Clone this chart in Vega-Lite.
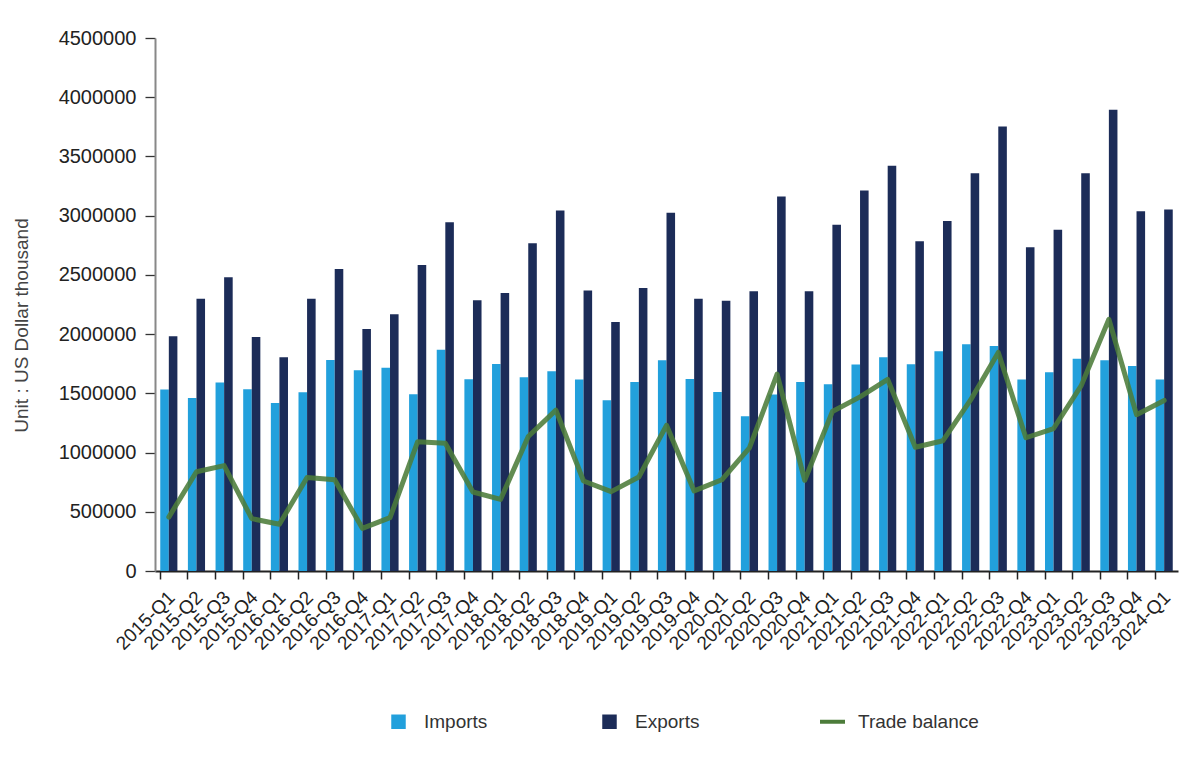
{
  "$schema": "https://vega.github.io/schema/vega-lite/v6.json",
  "width": 1023,
  "height": 533,
  "autosize": {"type": "none"},
  "padding": {"left": 155, "top": 38, "right": 22, "bottom": 188},
  "background": "white",
  "config": {"view": {"stroke": null}, "font": "Liberation Sans"},
  "data": {"values": [
    {"quarter": "2015-Q1", "series": "Imports", "value": 1532000}, {"quarter": "2015-Q1", "series": "Exports", "value": 1981000}, {"quarter": "2015-Q1", "series": "Trade balance", "value": 455000},
    {"quarter": "2015-Q2", "series": "Imports", "value": 1461000}, {"quarter": "2015-Q2", "series": "Exports", "value": 2299000}, {"quarter": "2015-Q2", "series": "Trade balance", "value": 838000},
    {"quarter": "2015-Q3", "series": "Imports", "value": 1591000}, {"quarter": "2015-Q3", "series": "Exports", "value": 2481000}, {"quarter": "2015-Q3", "series": "Trade balance", "value": 890000},
    {"quarter": "2015-Q4", "series": "Imports", "value": 1535000}, {"quarter": "2015-Q4", "series": "Exports", "value": 1976000}, {"quarter": "2015-Q4", "series": "Trade balance", "value": 442000},
    {"quarter": "2016-Q1", "series": "Imports", "value": 1419000}, {"quarter": "2016-Q1", "series": "Exports", "value": 1804000}, {"quarter": "2016-Q1", "series": "Trade balance", "value": 395000},
    {"quarter": "2016-Q2", "series": "Imports", "value": 1509000}, {"quarter": "2016-Q2", "series": "Exports", "value": 2299000}, {"quarter": "2016-Q2", "series": "Trade balance", "value": 790000},
    {"quarter": "2016-Q3", "series": "Imports", "value": 1782000}, {"quarter": "2016-Q3", "series": "Exports", "value": 2549000}, {"quarter": "2016-Q3", "series": "Trade balance", "value": 770000},
    {"quarter": "2016-Q4", "series": "Imports", "value": 1695000}, {"quarter": "2016-Q4", "series": "Exports", "value": 2043000}, {"quarter": "2016-Q4", "series": "Trade balance", "value": 360000},
    {"quarter": "2017-Q1", "series": "Imports", "value": 1717000}, {"quarter": "2017-Q1", "series": "Exports", "value": 2167000}, {"quarter": "2017-Q1", "series": "Trade balance", "value": 450000},
    {"quarter": "2017-Q2", "series": "Imports", "value": 1492000}, {"quarter": "2017-Q2", "series": "Exports", "value": 2583000}, {"quarter": "2017-Q2", "series": "Trade balance", "value": 1092000},
    {"quarter": "2017-Q3", "series": "Imports", "value": 1869000}, {"quarter": "2017-Q3", "series": "Exports", "value": 2945000}, {"quarter": "2017-Q3", "series": "Trade balance", "value": 1078000},
    {"quarter": "2017-Q4", "series": "Imports", "value": 1619000}, {"quarter": "2017-Q4", "series": "Exports", "value": 2285000}, {"quarter": "2017-Q4", "series": "Trade balance", "value": 667000},
    {"quarter": "2018-Q1", "series": "Imports", "value": 1748000}, {"quarter": "2018-Q1", "series": "Exports", "value": 2347000}, {"quarter": "2018-Q1", "series": "Trade balance", "value": 605000},
    {"quarter": "2018-Q2", "series": "Imports", "value": 1636000}, {"quarter": "2018-Q2", "series": "Exports", "value": 2768000}, {"quarter": "2018-Q2", "series": "Trade balance", "value": 1135000},
    {"quarter": "2018-Q3", "series": "Imports", "value": 1686000}, {"quarter": "2018-Q3", "series": "Exports", "value": 3044000}, {"quarter": "2018-Q3", "series": "Trade balance", "value": 1358000},
    {"quarter": "2018-Q4", "series": "Imports", "value": 1616000}, {"quarter": "2018-Q4", "series": "Exports", "value": 2369000}, {"quarter": "2018-Q4", "series": "Trade balance", "value": 760000},
    {"quarter": "2019-Q1", "series": "Imports", "value": 1442000}, {"quarter": "2019-Q1", "series": "Exports", "value": 2102000}, {"quarter": "2019-Q1", "series": "Trade balance", "value": 670000},
    {"quarter": "2019-Q2", "series": "Imports", "value": 1596000}, {"quarter": "2019-Q2", "series": "Exports", "value": 2389000}, {"quarter": "2019-Q2", "series": "Trade balance", "value": 794000},
    {"quarter": "2019-Q3", "series": "Imports", "value": 1779000}, {"quarter": "2019-Q3", "series": "Exports", "value": 3024000}, {"quarter": "2019-Q3", "series": "Trade balance", "value": 1230000},
    {"quarter": "2019-Q4", "series": "Imports", "value": 1621000}, {"quarter": "2019-Q4", "series": "Exports", "value": 2299000}, {"quarter": "2019-Q4", "series": "Trade balance", "value": 676000},
    {"quarter": "2020-Q1", "series": "Imports", "value": 1512000}, {"quarter": "2020-Q1", "series": "Exports", "value": 2282000}, {"quarter": "2020-Q1", "series": "Trade balance", "value": 770000},
    {"quarter": "2020-Q2", "series": "Imports", "value": 1307000}, {"quarter": "2020-Q2", "series": "Exports", "value": 2361000}, {"quarter": "2020-Q2", "series": "Trade balance", "value": 1040000},
    {"quarter": "2020-Q3", "series": "Imports", "value": 1490000}, {"quarter": "2020-Q3", "series": "Exports", "value": 3162000}, {"quarter": "2020-Q3", "series": "Trade balance", "value": 1662000},
    {"quarter": "2020-Q4", "series": "Imports", "value": 1596000}, {"quarter": "2020-Q4", "series": "Exports", "value": 2361000}, {"quarter": "2020-Q4", "series": "Trade balance", "value": 766000},
    {"quarter": "2021-Q1", "series": "Imports", "value": 1577000}, {"quarter": "2021-Q1", "series": "Exports", "value": 2923000}, {"quarter": "2021-Q1", "series": "Trade balance", "value": 1346000},
    {"quarter": "2021-Q2", "series": "Imports", "value": 1743000}, {"quarter": "2021-Q2", "series": "Exports", "value": 3212000}, {"quarter": "2021-Q2", "series": "Trade balance", "value": 1470000},
    {"quarter": "2021-Q3", "series": "Imports", "value": 1805000}, {"quarter": "2021-Q3", "series": "Exports", "value": 3421000}, {"quarter": "2021-Q3", "series": "Trade balance", "value": 1618000},
    {"quarter": "2021-Q4", "series": "Imports", "value": 1745000}, {"quarter": "2021-Q4", "series": "Exports", "value": 2785000}, {"quarter": "2021-Q4", "series": "Trade balance", "value": 1045000},
    {"quarter": "2022-Q1", "series": "Imports", "value": 1855000}, {"quarter": "2022-Q1", "series": "Exports", "value": 2954000}, {"quarter": "2022-Q1", "series": "Trade balance", "value": 1100000},
    {"quarter": "2022-Q2", "series": "Imports", "value": 1914000}, {"quarter": "2022-Q2", "series": "Exports", "value": 3358000}, {"quarter": "2022-Q2", "series": "Trade balance", "value": 1444000},
    {"quarter": "2022-Q3", "series": "Imports", "value": 1900000}, {"quarter": "2022-Q3", "series": "Exports", "value": 3752000}, {"quarter": "2022-Q3", "series": "Trade balance", "value": 1845000},
    {"quarter": "2022-Q4", "series": "Imports", "value": 1616000}, {"quarter": "2022-Q4", "series": "Exports", "value": 2734000}, {"quarter": "2022-Q4", "series": "Trade balance", "value": 1125000},
    {"quarter": "2023-Q1", "series": "Imports", "value": 1678000}, {"quarter": "2023-Q1", "series": "Exports", "value": 2881000}, {"quarter": "2023-Q1", "series": "Trade balance", "value": 1203000},
    {"quarter": "2023-Q2", "series": "Imports", "value": 1793000}, {"quarter": "2023-Q2", "series": "Exports", "value": 3358000}, {"quarter": "2023-Q2", "series": "Trade balance", "value": 1565000},
    {"quarter": "2023-Q3", "series": "Imports", "value": 1779000}, {"quarter": "2023-Q3", "series": "Exports", "value": 3895000}, {"quarter": "2023-Q3", "series": "Trade balance", "value": 2125000},
    {"quarter": "2023-Q4", "series": "Imports", "value": 1731000}, {"quarter": "2023-Q4", "series": "Exports", "value": 3038000}, {"quarter": "2023-Q4", "series": "Trade balance", "value": 1320000},
    {"quarter": "2024-Q1", "series": "Imports", "value": 1616000}, {"quarter": "2024-Q1", "series": "Exports", "value": 3052000}, {"quarter": "2024-Q1", "series": "Trade balance", "value": 1440000}
  ]},
  "encoding": {
    "x": {
      "field": "quarter", "type": "ordinal", "sort": null,
      "scale": {"paddingInner": 0.38, "paddingOuter": 0.19},
      "axis": {
        "title": null, "bandPosition": 0, "labelAngle": -45, "labelAlign": "right", "labelBaseline": "middle",
        "labelOffset": 3, "labelPadding": 15, "labelFontSize": 19, "labelColor": "#222", "labelOverlap": false, "labelBound": false,
        "tickSize": 8, "tickColor": "#222", "tickWidth": 1.5, "domainColor": "#222", "domainWidth": 2, "grid": false
      }
    }
  },
  "layer": [
    {
      "transform": [{"filter": "datum.series !== 'Trade balance'"}],
      "mark": {"type": "bar"},
      "encoding": {
        "xOffset": {"field": "series", "type": "nominal", "sort": ["Imports", "Exports"], "scale": {"paddingInner": 0, "paddingOuter": 0}},
        "y": {
          "field": "value", "type": "quantitative",
          "scale": {"domain": [0, 4500000], "nice": false},
          "axis": {
            "values": [0, 500000, 1000000, 1500000, 2000000, 2500000, 3000000, 3500000, 4000000, 4500000],
            "format": "d", "grid": false, "tickSize": 10, "labelPadding": 9, "labelFontSize": 20, "labelColor": "#222",
            "tickColor": "#333", "tickWidth": 1.3, "domainColor": "#888", "domainWidth": 2,
            "title": "Unit : US Dollar thousand", "titleFontSize": 19, "titleFontWeight": "normal", "titleColor": "#444",
            "titleX": -128, "titleY": 287, "titleAngle": -90, "titleAlign": "center", "titleBaseline": "alphabetic"
          }
        },
        "color": {
          "field": "series", "type": "nominal",
          "scale": {"domain": ["Imports", "Exports", "Trade balance"], "range": ["#22a0dc", "#1c2c58", "#4c7c3a"]},
          "legend": {
            "title": null, "orient": "none", "direction": "horizontal", "legendX": 234, "legendY": 674,
            "symbolSize": 625, "labelFontSize": 19, "labelColor": "#333", "labelOffset": 16, "columnPadding": 112, "padding": 0,
            "encode": {"symbols": {"update": {
              "shape": {"signal": "datum.value === 'Trade balance' ? 'stroke' : 'square'"},
              "size": {"signal": "datum.value === 'Trade balance' ? 625 : 210"},
              "fill": {"signal": "datum.value === 'Trade balance' ? 'transparent' : scale('color', datum.value)"},
              "stroke": {"signal": "scale('color', datum.value)"},
              "strokeWidth": {"signal": "datum.value === 'Trade balance' ? 4 : 0"},
              "opacity": {"value": 1}
            }}}
          }
        }
      }
    },
    {
      "transform": [{"filter": "datum.series === 'Trade balance'"}],
      "mark": {"type": "line", "strokeWidth": 5, "opacity": 0.88, "strokeJoin": "round", "strokeCap": "round"},
      "encoding": {
        "y": {"field": "value", "type": "quantitative"},
        "color": {"field": "series", "type": "nominal"}
      }
    }
  ]
}
